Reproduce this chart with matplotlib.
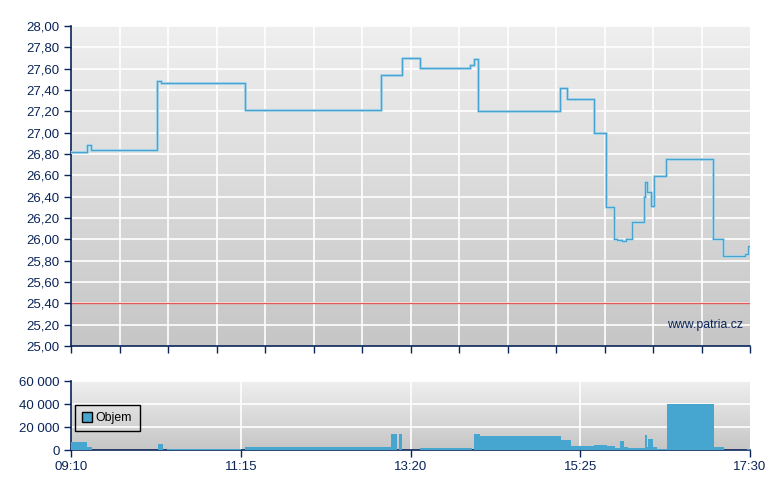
import numpy as np
import matplotlib
matplotlib.use("Agg")
import matplotlib.pyplot as plt
from matplotlib.patches import Patch

# minutes after 09:10 and price (step, held until next point)
price_min = [0, 12, 15, 63, 66, 128, 228, 244, 257, 294, 297, 300, 360, 365, 385,
             394, 400, 402, 406, 409, 413, 422, 423, 424, 427, 429, 438, 473, 480,
             496, 498.5, 500]
price_val = [26.82, 26.88, 26.84, 27.48, 27.47, 27.21, 27.54, 27.70, 27.61, 27.63,
             27.69, 27.20, 27.42, 27.32, 27.00, 26.30, 26.00, 25.99, 25.98, 26.00,
             26.16, 26.40, 26.54, 26.44, 26.31, 26.59, 26.75, 26.00, 25.84, 25.86,
             25.94, 25.94]

# volume blocks: start minute and volume, last start closes the range
vol_start = [0, 12, 15.5, 64, 68, 71, 125, 128, 236, 240, 241.5, 244, 257, 295, 297,
             301, 361, 368, 385, 395, 400.5, 404, 407, 410, 423, 424, 425, 428.5,
             431.5, 439, 473.5, 481, 498, 500]
vol_val = [7200, 2600, 0, 5200, 0, 900, 0, 2600, 13900, 0, 13900, 0, 1500, 0, 14000,
           12200, 8700, 3500, 4300, 3500, 1500, 7800, 2600, 1500, 13000, 2600, 9600,
           2600, 900, 40000, 2600, 300, 800]

ref_price = 25.40
time_ticks = [0, 125, 250, 375, 500]
time_labels = ["09:10", "11:15", "13:20", "15:25", "17:30"]

navy = "#0a2458"
line_col = "#47a3cf"
bar_col = "#46a6cf"

plt.rcParams["font.family"] = ["Liberation Sans", "DejaVu Sans"]
plt.rcParams["font.size"] = 9.5

fig = plt.figure(figsize=(7.8, 4.9), dpi=100)
ax = fig.add_axes([71 / 780, 1 - 346 / 490, 679 / 780, 320 / 490])
axv = fig.add_axes([71 / 780, 1 - 450 / 490, 679 / 780, 69 / 490])

grad = np.linspace(0, 1, 256).reshape(-1, 1)
for a in (ax, axv):
    a.imshow(grad, extent=[0, 1, 0, 1], transform=a.transAxes, aspect="auto",
             cmap=matplotlib.colors.LinearSegmentedColormap.from_list(
                 "g", ["#efefef", "#c6c6c6"]), zorder=0)
    a.set_xlim(0, 500)
    for s in ("top", "right"):
        a.spines[s].set_visible(False)
    for s in ("left", "bottom"):
        a.spines[s].set_color(navy)
        a.spines[s].set_linewidth(1.2)
    a.tick_params(colors=navy, labelcolor=navy, length=5, width=1, pad=3)

# price panel
ax.set_ylim(25, 28)
yt = np.arange(25, 28.01, 0.2)
ax.set_yticks(yt)
ax.set_yticklabels([f"{v:.2f}".replace(".", ",") for v in yt])
xt = np.linspace(0, 500, 15)
ax.set_xticks(xt)
ax.set_xticklabels([])
for v in yt[1:]:
    ax.axhline(v, color="white", lw=1.2, zorder=1)
for v in xt[1:-1]:
    ax.axvline(v, color="white", lw=1.2, zorder=1)
ax.axhline(ref_price, color="#e05a5a", lw=1, zorder=2)
ax.plot(price_min, price_val, drawstyle="steps-post", color="#b3d8ea", lw=2.2, zorder=3)
ax.plot(price_min, price_val, drawstyle="steps-post", color=line_col, lw=0.9, zorder=4)
ax.text(0.99, 0.065, "www.patria.cz", transform=ax.transAxes, ha="right", va="center",
        color=navy, fontsize=8.8)

# volume panel
axv.set_ylim(0, 60000)
axv.set_yticks([0, 20000, 40000, 60000])
axv.set_yticklabels(["0", "20 000", "40 000", "60 000"])
axv.set_xticks(time_ticks)
axv.set_xticklabels(time_labels)
for v in [20000, 40000, 60000]:
    axv.axhline(v, color="white", lw=1.2, zorder=1)
for v in time_ticks[1:-1]:
    axv.axvline(v, color="white", lw=1.2, zorder=1)
widths = np.diff(vol_start)
axv.bar(vol_start[:-1], vol_val, width=widths, align="edge", color=bar_col,
        linewidth=0, zorder=3)
leg = axv.legend(handles=[Patch(facecolor=bar_col, edgecolor="black", label="Objem")],
                 loc="upper left", bbox_to_anchor=(0.006, 0.655), fancybox=False,
                 handlelength=0.8, handleheight=0.8,
                 borderpad=0.6, handletextpad=0.3, borderaxespad=0, fontsize=8.8)
frame = leg.get_frame()
frame.set_alpha(None)
frame.set_facecolor((0, 0, 0, 0))
frame.set_edgecolor("black")
frame.set_linewidth(1)

fig.savefig("out.png", dpi=100)
